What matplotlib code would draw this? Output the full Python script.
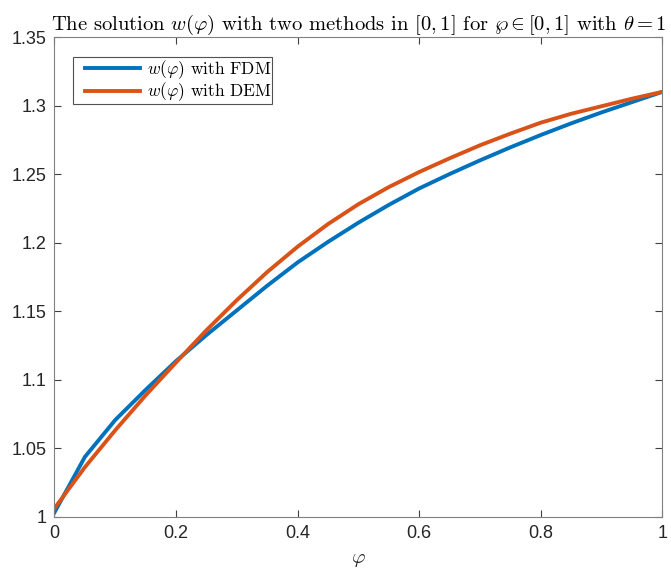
import matplotlib
matplotlib.use("Agg")
import matplotlib.pyplot as plt
from matplotlib.lines import Line2D
from matplotlib.legend_handler import HandlerLine2D
import numpy as np

phi = [0.00, 0.05, 0.10, 0.15, 0.20, 0.25, 0.30, 0.35, 0.40, 0.45, 0.50,
       0.55, 0.60, 0.65, 0.70, 0.75, 0.80, 0.85, 0.90, 0.95, 1.00]
w_fdm = [1.003, 1.0435, 1.0705, 1.0925, 1.1135, 1.1325, 1.1505, 1.1685, 1.1855, 1.2005, 1.2145,
         1.2275, 1.2395, 1.250, 1.260, 1.2695, 1.2785, 1.287, 1.295, 1.3025, 1.310]
w_dem = [1.006, 1.036, 1.063, 1.0885, 1.1125, 1.136, 1.158, 1.1785, 1.197, 1.2135, 1.228,
         1.2405, 1.2515, 1.2615, 1.271, 1.2795, 1.2875, 1.294, 1.2995, 1.305, 1.310]
xticks = [0, 0.2, 0.4, 0.6, 0.8, 1]
xtick_labels = ["0", "0.2", "0.4", "0.6", "0.8", "1"]
yticks = [1, 1.05, 1.1, 1.15, 1.2, 1.25, 1.3, 1.35]
ytick_labels = ["1", "1.05", "1.1", "1.15", "1.2", "1.25", "1.3", "1.35"]

plt.rcParams['mathtext.fontset'] = 'cm'
plt.rcParams['font.family'] = ['Liberation Sans', 'DejaVu Sans']


class ShiftedLine(HandlerLine2D):
    def __init__(self, shift, **kw):
        super().__init__(**kw)
        self.shift = shift

    def create_artists(self, legend, orig_handle, xdescent, ydescent, width, height, fontsize, trans):
        s = self.shift
        return super().create_artists(legend, orig_handle, xdescent - s, ydescent, width - s,
                                      height, fontsize, trans)


fig = plt.figure(figsize=(6.71, 5.73), dpi=100)
ax = fig.add_axes([0.0812, 0.0986, 0.9061, 0.8368])

ax.plot(phi, w_fdm, color='#0072BD', lw=2.8, label=r'$w(\varphi)$ with FDM')
ax.plot(phi, w_dem, color='#D95319', lw=2.8, label=r'$w(\varphi)$ with DEM')

ax.set_xlim(0, 1)
ax.set_ylim(1, 1.35)
ax.set_xticks(xticks)
ax.set_xticklabels(xtick_labels)
ax.set_yticks(yticks)
ax.set_yticklabels(ytick_labels)

gray = '#262626'
for s in ax.spines.values():
    s.set_color('#808080')
    s.set_linewidth(0.8)
ax.tick_params(direction='in', length=5, width=0.8, color='#404040',
               top=True, right=True, labelsize=13, labelcolor=gray, pad=6)

ax.set_title(r'The solution $w(\varphi)$ with two methods in $[0,1]$ for $\wp\in[0,1]$ with $\theta=1$',
             family='cmr10', fontsize=14.8, color='black', pad=5)
ax.set_xlabel(r'$\varphi$', fontsize=15, color=gray, labelpad=6)

leg = ax.legend(loc='upper left', bbox_to_anchor=(0.030, 0.958), borderaxespad=0,
                prop={'family': 'cmr10', 'size': 12.5},
                frameon=True, fancybox=False, edgecolor='#262626', handlelength=3.8,
                borderpad=0.05, labelspacing=0.0, handletextpad=0.4,
                handler_map={Line2D: ShiftedLine(8.0)})
leg.get_frame().set_linewidth(0.8)
for t in leg.get_texts():
    t.set_color('black')

fig.savefig('out.png', dpi=100)
